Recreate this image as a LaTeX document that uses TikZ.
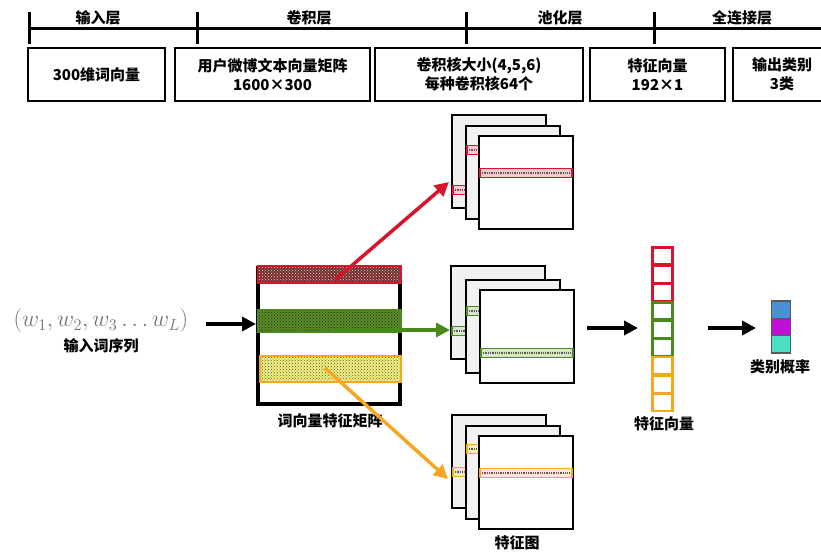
\documentclass[tikz,border=0pt]{standalone}
\usepackage{fontspec}
\newfontfamily\cjk{Noto Sans CJK SC}
\usetikzlibrary{arrows.meta,patterns}
\definecolor{cred}{HTML}{D7142A}
\definecolor{cmaroon}{HTML}{7A2C2C}
\definecolor{cgreen}{HTML}{4A8A1A}
\definecolor{cgreenf}{HTML}{5A8A2A}
\definecolor{corange}{HTML}{F5A623}
\definecolor{cyel}{HTML}{F4EE8C}
\definecolor{cblue}{HTML}{4A90D9}
\definecolor{cpurple}{HTML}{C010D8}
\definecolor{cteal}{HTML}{48E0C0}
\newcommand\FMap[6]{%
  \node[fmapbox, fill=#4] (#6) at (#1+47,#2+46.5) {};
  \draw[fill=#5!22, draw=#5, line width=1.6pt] (#1+1,#2+#3-4.5) rectangle (#1+93,#2+#3+4.5);
  \draw[densely dotted, line width=1.3pt, black!65] (#1+3,#2+#3) -- (#1+91,#2+#3);
}
\begin{document}
\begin{tikzpicture}[x=1pt,y=-1pt,
  cjkfont/.style={font={\cjk\bfseries\fontsize{15}{19}\selectfont}},
  lbl/.style={cjkfont, inner sep=0pt},
  topbox/.style={draw, line width=2.2pt, inner sep=0pt, align=center, cjkfont},
  fmapbox/.style={draw, line width=2pt, minimum width=94pt, minimum height=93pt, inner sep=0pt},
  bigarrow/.style={line width=3.5pt, -{Triangle[length=14pt,width=14pt]}},
  cell/.style={draw, line width=2.2pt, minimum width=20pt, minimum height=17pt, inner sep=0pt},
  ocell/.style={draw=black!65, line width=1.5pt, minimum width=19pt, minimum height=17.3pt, inner sep=0pt}
]
\useasboundingbox (0,0) rectangle (821,551);
\clip (0,0) rectangle (821,551);

% top axis
\coordinate (axL) at (28,29);
\coordinate (axR) at (830,29);
\draw[line width=3pt] (axL) -- (axR);
\foreach \x/\n in {29/t1,197/t2,466/t3,654/t4}{
  \coordinate (\n a) at (\x,12);
  \coordinate (\n b) at (\x,44);
  \draw[line width=3pt] (\n a) -- (\n b);
}
\node[lbl] (l1) at (98,18) {输入层};
\node[lbl] (l2) at (309,18) {卷积层};
\node[lbl] (l3) at (560,18) {池化层};
\node[lbl] (l4) at (742,18) {全连接层};

% boxes
\node[topbox, minimum width=137pt, minimum height=53pt] (b1) at (96.5,74.5) {300维词向量};
\node[topbox, minimum width=195pt, minimum height=53pt] (b2) at (272.5,74.5) {用户微博文本向量矩阵\\1600×300};
\node[topbox, minimum width=208pt, minimum height=53pt] (b3) at (479,74.5) {卷积核大小(4,5,6)\\每种卷积核64个};
\node[topbox, minimum width=135pt, minimum height=53pt] (b4) at (657.5,74.5) {特征向量\\192×1};
\node[topbox, minimum width=98pt, minimum height=53pt] (b5) at (782,74.5) {输出类别\\3类};

% input
\node[inner sep=0pt, text=black!55] (seq) at (101,321) {\scalebox{1.13}{\huge$(w_1, w_2, w_3\ldots w_L)$}};
\node[lbl] (seql) at (101,346) {输入词序列};

% matrix
\coordinate (mTL) at (258,266);
\coordinate (mBL) at (258,404);
\coordinate (mBR) at (400,404);
\coordinate (mTR) at (400,266);
\draw[line width=3.5pt] (mTL) -- (mBL) -- (mBR) -- (mTR);
\fill[cmaroon] (258,266) rectangle (401,283);
\fill[pattern=crosshatch dots, pattern color=white!80!cmaroon] (258,266) rectangle (401,283);
\draw[cred, line width=2.2pt] (258,266) rectangle (401,283);
\fill[cgreenf] (258,310) rectangle (401,332);
\fill[pattern=crosshatch dots, pattern color=cgreen!40!black] (258,310) rectangle (401,332);
\draw[cgreen, line width=2.2pt] (258,310) rectangle (401,332);
\fill[cyel] (260,356) rectangle (401,382);
\fill[pattern=crosshatch dots, pattern color=olive!70!black] (260,356) rectangle (401,382);
\draw[corange, line width=2.2pt] (260,356) rectangle (401,382);
\node[lbl] (mlab) at (330,421) {词向量特征矩阵};

\coordinate (inA) at (206,324);
\coordinate (inB) at (256,324);
\draw[bigarrow] (inA) -- (inB);

% feature maps
\FMap{452}{115}{75}{black!6}{cred}{fr1}
\FMap{466}{126}{24}{black!5}{cred}{fr2}
\FMap{479}{136}{37}{white}{cred}{fr3}

\FMap{451}{266}{65}{black!6}{cgreen}{fg1}
\FMap{466}{280}{31}{black!5}{cgreen}{fg2}
\FMap{480}{290}{63}{white}{cgreen}{fg3}

\FMap{452}{415}{57}{black!6}{corange}{fo1}
\FMap{466}{426}{23}{black!5}{corange}{fo2}
\FMap{479}{436}{37}{white}{corange}{fo3}
\node[lbl] (fmlab) at (517,543) {特征图};

% arrows from matrix
\coordinate (rA) at (335,280);
\coordinate (rB) at (449,182);
\coordinate (gA) at (330,330);
\coordinate (gB) at (450,330);
\coordinate (oA) at (325,368);
\coordinate (oB) at (448,479);
\draw[bigarrow, cred] (rA) -- (rB);
\draw[bigarrow, cgreen] (gA) -- (gB);
\draw[bigarrow, corange] (oA) -- (oB);

% feature vector
\foreach \i/\c in {0/cred,1/cred,2/cred,3/cgreen,4/cgreen,5/cgreen,6/corange,7/corange,8/corange}{
  \node[cell, draw=\c] (v\i) at (662.5,{256+18.3*\i}) {};
}
\node[lbl] (vlab) at (664,424) {特征向量};
\coordinate (a1A) at (587,328);
\coordinate (a1B) at (638,328);
\draw[bigarrow] (a1A) -- (a1B);

% output
\node[ocell, fill=cblue] (o1) at (781,309.7) {};
\node[ocell, fill=cpurple] (o2) at (781,327) {};
\node[ocell, fill=cteal] (o3) at (781,344.3) {};
\node[lbl] (olab) at (780,367) {类别概率};
\coordinate (a2A) at (708,328);
\coordinate (a2B) at (756,328);
\draw[bigarrow] (a2A) -- (a2B);
\end{tikzpicture}
\end{document}
